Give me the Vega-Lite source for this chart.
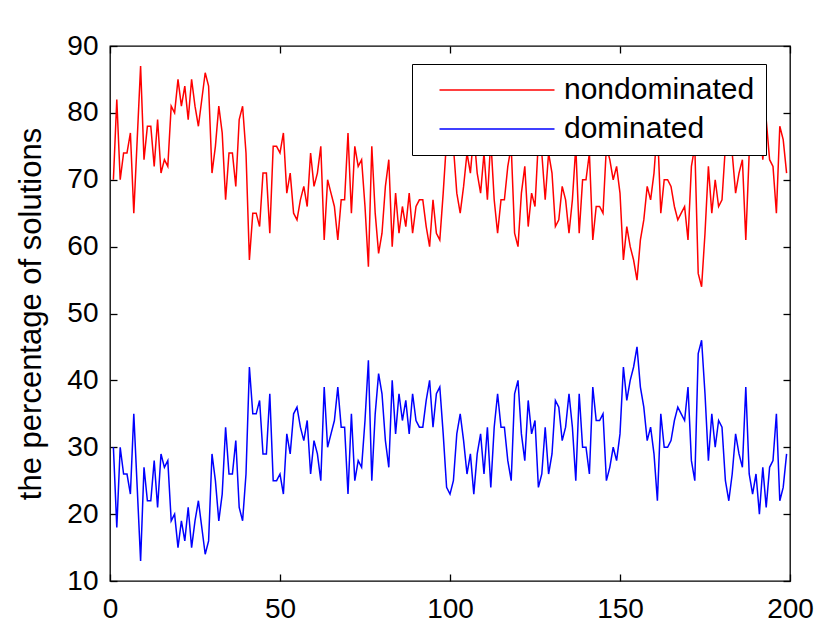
{
  "$schema": "https://vega.github.io/schema/vega-lite/v6.json",
  "width": 680,
  "height": 535,
  "autosize": {"type": "none"},
  "padding": {"left": 110, "top": 46, "right": 40, "bottom": 41},
  "background": "white",
  "config": {
    "font": "Liberation Sans",
    "view": {"stroke": "black", "strokeWidth": 1.3},
    "axis": {
      "grid": false,
      "domain": false,
      "tickColor": "black",
      "tickWidth": 1.3,
      "tickSize": -7,
      "labelFlush": false,
      "labelColor": "black",
      "labelFont": "Liberation Sans",
      "labelFontSize": 28,
      "titleFont": "Liberation Sans",
      "titleFontSize": 31,
      "titleFontWeight": "normal",
      "titleColor": "black"
    }
  },
  "data": {
    "values": [
      {"x": 1, "nondominated": 70, "dominated": 30},
      {"x": 2, "nondominated": 82, "dominated": 18},
      {"x": 3, "nondominated": 70, "dominated": 30},
      {"x": 4, "nondominated": 74, "dominated": 26},
      {"x": 5, "nondominated": 74, "dominated": 26},
      {"x": 6, "nondominated": 77, "dominated": 23},
      {"x": 7, "nondominated": 65, "dominated": 35},
      {"x": 8, "nondominated": 76, "dominated": 24},
      {"x": 9, "nondominated": 87, "dominated": 13},
      {"x": 10, "nondominated": 73, "dominated": 27},
      {"x": 11, "nondominated": 78, "dominated": 22},
      {"x": 12, "nondominated": 78, "dominated": 22},
      {"x": 13, "nondominated": 72, "dominated": 28},
      {"x": 14, "nondominated": 79, "dominated": 21},
      {"x": 15, "nondominated": 71, "dominated": 29},
      {"x": 16, "nondominated": 73, "dominated": 27},
      {"x": 17, "nondominated": 72, "dominated": 28},
      {"x": 18, "nondominated": 81, "dominated": 19},
      {"x": 19, "nondominated": 80, "dominated": 20},
      {"x": 20, "nondominated": 85, "dominated": 15},
      {"x": 21, "nondominated": 81, "dominated": 19},
      {"x": 22, "nondominated": 84, "dominated": 16},
      {"x": 23, "nondominated": 79, "dominated": 21},
      {"x": 24, "nondominated": 85, "dominated": 15},
      {"x": 25, "nondominated": 81, "dominated": 19},
      {"x": 26, "nondominated": 78, "dominated": 22},
      {"x": 27, "nondominated": 82, "dominated": 18},
      {"x": 28, "nondominated": 86, "dominated": 14},
      {"x": 29, "nondominated": 84, "dominated": 16},
      {"x": 30, "nondominated": 71, "dominated": 29},
      {"x": 31, "nondominated": 75, "dominated": 25},
      {"x": 32, "nondominated": 81, "dominated": 19},
      {"x": 33, "nondominated": 77, "dominated": 23},
      {"x": 34, "nondominated": 67, "dominated": 33},
      {"x": 35, "nondominated": 74, "dominated": 26},
      {"x": 36, "nondominated": 74, "dominated": 26},
      {"x": 37, "nondominated": 69, "dominated": 31},
      {"x": 38, "nondominated": 79, "dominated": 21},
      {"x": 39, "nondominated": 81, "dominated": 19},
      {"x": 40, "nondominated": 74, "dominated": 26},
      {"x": 41, "nondominated": 58, "dominated": 42},
      {"x": 42, "nondominated": 65, "dominated": 35},
      {"x": 43, "nondominated": 65, "dominated": 35},
      {"x": 44, "nondominated": 63, "dominated": 37},
      {"x": 45, "nondominated": 71, "dominated": 29},
      {"x": 46, "nondominated": 71, "dominated": 29},
      {"x": 47, "nondominated": 62, "dominated": 38},
      {"x": 48, "nondominated": 75, "dominated": 25},
      {"x": 49, "nondominated": 75, "dominated": 25},
      {"x": 50, "nondominated": 74, "dominated": 26},
      {"x": 51, "nondominated": 77, "dominated": 23},
      {"x": 52, "nondominated": 68, "dominated": 32},
      {"x": 53, "nondominated": 71, "dominated": 29},
      {"x": 54, "nondominated": 65, "dominated": 35},
      {"x": 55, "nondominated": 64, "dominated": 36},
      {"x": 56, "nondominated": 67, "dominated": 33},
      {"x": 57, "nondominated": 69, "dominated": 31},
      {"x": 58, "nondominated": 66, "dominated": 34},
      {"x": 59, "nondominated": 74, "dominated": 26},
      {"x": 60, "nondominated": 69, "dominated": 31},
      {"x": 61, "nondominated": 71, "dominated": 29},
      {"x": 62, "nondominated": 75, "dominated": 25},
      {"x": 63, "nondominated": 61, "dominated": 39},
      {"x": 64, "nondominated": 70, "dominated": 30},
      {"x": 65, "nondominated": 68, "dominated": 32},
      {"x": 66, "nondominated": 66, "dominated": 34},
      {"x": 67, "nondominated": 61, "dominated": 39},
      {"x": 68, "nondominated": 67, "dominated": 33},
      {"x": 69, "nondominated": 67, "dominated": 33},
      {"x": 70, "nondominated": 77, "dominated": 23},
      {"x": 71, "nondominated": 65, "dominated": 35},
      {"x": 72, "nondominated": 75, "dominated": 25},
      {"x": 73, "nondominated": 72, "dominated": 28},
      {"x": 74, "nondominated": 73, "dominated": 27},
      {"x": 75, "nondominated": 66, "dominated": 34},
      {"x": 76, "nondominated": 57, "dominated": 43},
      {"x": 77, "nondominated": 75, "dominated": 25},
      {"x": 78, "nondominated": 65, "dominated": 35},
      {"x": 79, "nondominated": 59, "dominated": 41},
      {"x": 80, "nondominated": 62, "dominated": 38},
      {"x": 81, "nondominated": 69, "dominated": 31},
      {"x": 82, "nondominated": 73, "dominated": 27},
      {"x": 83, "nondominated": 60, "dominated": 40},
      {"x": 84, "nondominated": 68, "dominated": 32},
      {"x": 85, "nondominated": 62, "dominated": 38},
      {"x": 86, "nondominated": 66, "dominated": 34},
      {"x": 87, "nondominated": 63, "dominated": 37},
      {"x": 88, "nondominated": 68, "dominated": 32},
      {"x": 89, "nondominated": 62, "dominated": 38},
      {"x": 90, "nondominated": 66, "dominated": 34},
      {"x": 91, "nondominated": 67, "dominated": 33},
      {"x": 92, "nondominated": 67, "dominated": 33},
      {"x": 93, "nondominated": 63, "dominated": 37},
      {"x": 94, "nondominated": 60, "dominated": 40},
      {"x": 95, "nondominated": 67, "dominated": 33},
      {"x": 96, "nondominated": 62, "dominated": 38},
      {"x": 97, "nondominated": 61, "dominated": 39},
      {"x": 98, "nondominated": 68, "dominated": 32},
      {"x": 99, "nondominated": 76, "dominated": 24},
      {"x": 100, "nondominated": 77, "dominated": 23},
      {"x": 101, "nondominated": 75, "dominated": 25},
      {"x": 102, "nondominated": 68, "dominated": 32},
      {"x": 103, "nondominated": 65, "dominated": 35},
      {"x": 104, "nondominated": 69, "dominated": 31},
      {"x": 105, "nondominated": 74, "dominated": 26},
      {"x": 106, "nondominated": 71, "dominated": 29},
      {"x": 107, "nondominated": 77, "dominated": 23},
      {"x": 108, "nondominated": 71, "dominated": 29},
      {"x": 109, "nondominated": 68, "dominated": 32},
      {"x": 110, "nondominated": 74, "dominated": 26},
      {"x": 111, "nondominated": 67, "dominated": 33},
      {"x": 112, "nondominated": 76, "dominated": 24},
      {"x": 113, "nondominated": 67, "dominated": 33},
      {"x": 114, "nondominated": 62, "dominated": 38},
      {"x": 115, "nondominated": 67, "dominated": 33},
      {"x": 116, "nondominated": 67, "dominated": 33},
      {"x": 117, "nondominated": 72, "dominated": 28},
      {"x": 118, "nondominated": 75, "dominated": 25},
      {"x": 119, "nondominated": 62, "dominated": 38},
      {"x": 120, "nondominated": 60, "dominated": 40},
      {"x": 121, "nondominated": 68, "dominated": 32},
      {"x": 122, "nondominated": 72, "dominated": 28},
      {"x": 123, "nondominated": 63, "dominated": 37},
      {"x": 124, "nondominated": 68, "dominated": 32},
      {"x": 125, "nondominated": 66, "dominated": 34},
      {"x": 126, "nondominated": 76, "dominated": 24},
      {"x": 127, "nondominated": 74, "dominated": 26},
      {"x": 128, "nondominated": 67, "dominated": 33},
      {"x": 129, "nondominated": 74, "dominated": 26},
      {"x": 130, "nondominated": 71, "dominated": 29},
      {"x": 131, "nondominated": 63, "dominated": 37},
      {"x": 132, "nondominated": 64, "dominated": 36},
      {"x": 133, "nondominated": 69, "dominated": 31},
      {"x": 134, "nondominated": 67, "dominated": 33},
      {"x": 135, "nondominated": 62, "dominated": 38},
      {"x": 136, "nondominated": 67, "dominated": 33},
      {"x": 137, "nondominated": 75, "dominated": 25},
      {"x": 138, "nondominated": 62, "dominated": 38},
      {"x": 139, "nondominated": 70, "dominated": 30},
      {"x": 140, "nondominated": 70, "dominated": 30},
      {"x": 141, "nondominated": 74, "dominated": 26},
      {"x": 142, "nondominated": 61, "dominated": 39},
      {"x": 143, "nondominated": 66, "dominated": 34},
      {"x": 144, "nondominated": 66, "dominated": 34},
      {"x": 145, "nondominated": 65, "dominated": 35},
      {"x": 146, "nondominated": 75, "dominated": 25},
      {"x": 147, "nondominated": 73, "dominated": 27},
      {"x": 148, "nondominated": 70, "dominated": 30},
      {"x": 149, "nondominated": 72, "dominated": 28},
      {"x": 150, "nondominated": 68, "dominated": 32},
      {"x": 151, "nondominated": 58, "dominated": 42},
      {"x": 152, "nondominated": 63, "dominated": 37},
      {"x": 153, "nondominated": 60, "dominated": 40},
      {"x": 154, "nondominated": 58, "dominated": 42},
      {"x": 155, "nondominated": 55, "dominated": 45},
      {"x": 156, "nondominated": 61, "dominated": 39},
      {"x": 157, "nondominated": 64, "dominated": 36},
      {"x": 158, "nondominated": 69, "dominated": 31},
      {"x": 159, "nondominated": 67, "dominated": 33},
      {"x": 160, "nondominated": 71, "dominated": 29},
      {"x": 161, "nondominated": 78, "dominated": 22},
      {"x": 162, "nondominated": 65, "dominated": 35},
      {"x": 163, "nondominated": 70, "dominated": 30},
      {"x": 164, "nondominated": 70, "dominated": 30},
      {"x": 165, "nondominated": 69, "dominated": 31},
      {"x": 166, "nondominated": 66, "dominated": 34},
      {"x": 167, "nondominated": 64, "dominated": 36},
      {"x": 168, "nondominated": 65, "dominated": 35},
      {"x": 169, "nondominated": 66, "dominated": 34},
      {"x": 170, "nondominated": 61, "dominated": 39},
      {"x": 171, "nondominated": 72, "dominated": 28},
      {"x": 172, "nondominated": 75, "dominated": 25},
      {"x": 173, "nondominated": 56, "dominated": 44},
      {"x": 174, "nondominated": 54, "dominated": 46},
      {"x": 175, "nondominated": 62, "dominated": 38},
      {"x": 176, "nondominated": 72, "dominated": 28},
      {"x": 177, "nondominated": 65, "dominated": 35},
      {"x": 178, "nondominated": 70, "dominated": 30},
      {"x": 179, "nondominated": 66, "dominated": 34},
      {"x": 180, "nondominated": 67, "dominated": 33},
      {"x": 181, "nondominated": 75, "dominated": 25},
      {"x": 182, "nondominated": 78, "dominated": 22},
      {"x": 183, "nondominated": 74, "dominated": 26},
      {"x": 184, "nondominated": 68, "dominated": 32},
      {"x": 185, "nondominated": 71, "dominated": 29},
      {"x": 186, "nondominated": 73, "dominated": 27},
      {"x": 187, "nondominated": 61, "dominated": 39},
      {"x": 188, "nondominated": 74, "dominated": 26},
      {"x": 189, "nondominated": 77, "dominated": 23},
      {"x": 190, "nondominated": 74, "dominated": 26},
      {"x": 191, "nondominated": 80, "dominated": 20},
      {"x": 192, "nondominated": 73, "dominated": 27},
      {"x": 193, "nondominated": 79, "dominated": 21},
      {"x": 194, "nondominated": 73, "dominated": 27},
      {"x": 195, "nondominated": 72, "dominated": 28},
      {"x": 196, "nondominated": 65, "dominated": 35},
      {"x": 197, "nondominated": 78, "dominated": 22},
      {"x": 198, "nondominated": 76, "dominated": 24},
      {"x": 199, "nondominated": 71, "dominated": 29}
    ]
  },
  "transform": [
    {"fold": ["nondominated", "dominated"], "as": ["series", "percentage"]}
  ],
  "layer": [
    {
      "mark": {"type": "line", "strokeWidth": 1.5},
      "encoding": {
        "x": {
          "field": "x",
          "type": "quantitative",
          "scale": {"domain": [0, 200], "nice": false},
          "axis": {"orient": "bottom", "values": [0, 50, 100, 150, 200], "labelPadding": 21, "title": null}
        },
        "y": {
          "field": "percentage",
          "type": "quantitative",
          "scale": {"domain": [10, 90], "nice": false, "zero": false},
          "axis": {
            "orient": "left",
            "values": [10, 20, 30, 40, 50, 60, 70, 80, 90],
            "labelPadding": 19,
            "title": "the percentage of solutions",
            "titlePadding": 19
          }
        },
        "color": {
          "field": "series",
          "type": "nominal",
          "sort": ["nondominated", "dominated"],
          "scale": {"domain": ["nondominated", "dominated"], "range": ["#ff0000", "#0000ff"]},
          "legend": {
            "orient": "none",
            "legendX": 302,
            "legendY": 18,
            "title": null,
            "symbolType": "M-1,0H9",
            "symbolSize": 529,
            "symbolStrokeWidth": 1.5,
            "symbolOffset": 13,
            "labelOffset": 98,
            "labelLimit": 400,
            "labelFont": "Liberation Sans",
            "labelFontSize": 30,
            "labelColor": "black",
            "padding": 11,
            "rowPadding": 9,
            "fillColor": "white",
            "strokeColor": "black"
          }
        }
      }
    },
    {
      "mark": {"type": "line", "opacity": 0},
      "encoding": {
        "x": {
          "field": "x",
          "type": "quantitative",
          "axis": {"orient": "top", "values": [0, 50, 100, 150, 200], "labels": false, "title": null}
        },
        "y": {
          "field": "percentage",
          "type": "quantitative",
          "axis": {"orient": "right", "values": [10, 20, 30, 40, 50, 60, 70, 80, 90], "labels": false, "title": null}
        },
        "detail": {"field": "series"}
      }
    }
  ]
}
